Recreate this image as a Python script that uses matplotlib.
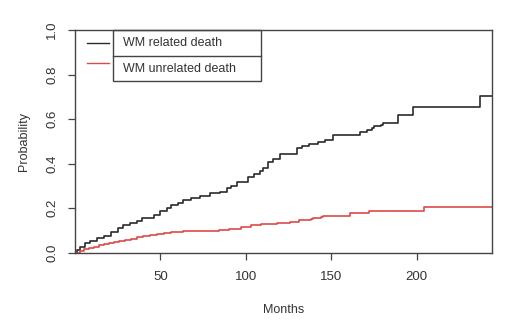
import matplotlib
matplotlib.use("Agg")
import matplotlib.pyplot as plt
from matplotlib.patches import Rectangle
from matplotlib.lines import Line2D

plt.rcParams["font.family"] = ["Liberation Sans", "DejaVu Sans"]

# cumulative incidence (step times in months)
related_t = [0, 1, 3, 6, 9, 13, 17, 21, 25, 28, 32, 36, 39, 46, 50, 54, 56, 60, 63, 68,
             73, 79, 85, 89, 91, 95, 101, 105, 108, 110, 113, 116, 120, 130, 133, 137, 142, 146,
             151, 167, 171, 174, 175, 179, 180, 189, 198, 237, 244]
related_p = [0.0, 0.012, 0.027, 0.044, 0.054, 0.066, 0.076, 0.094, 0.110, 0.124, 0.135, 0.144,
             0.154, 0.169, 0.189, 0.199, 0.214, 0.222, 0.237, 0.244, 0.255, 0.267, 0.274, 0.289,
             0.300, 0.319, 0.341, 0.353, 0.368, 0.379, 0.409, 0.419, 0.443, 0.469, 0.479, 0.488,
             0.498, 0.506, 0.530, 0.543, 0.551, 0.559, 0.569, 0.573, 0.584, 0.618, 0.653, 0.704, 0.704]

unrelated_t = [0, 3, 5, 8, 11, 14, 17, 20, 23, 26, 29, 33, 36, 40, 44, 48, 52, 56, 60, 63,
               84, 86, 90, 95, 97, 103, 109, 114, 118, 126, 131, 138, 139, 144, 145, 161, 172, 204, 244]
unrelated_p = [0.0, 0.008, 0.017, 0.022, 0.027, 0.033, 0.038, 0.044, 0.049, 0.053, 0.057, 0.063,
               0.069, 0.074, 0.079, 0.083, 0.087, 0.091, 0.094, 0.097, 0.100, 0.104, 0.105, 0.108,
               0.117, 0.124, 0.127, 0.129, 0.135, 0.139, 0.147, 0.150, 0.157, 0.162, 0.166, 0.177,
               0.187, 0.204, 0.204]

labels = ["WM related death", "WM unrelated death"]
x_ticks = [50, 100, 150, 200]
y_ticks = [0.0, 0.2, 0.4, 0.6, 0.8, 1.0]

black = "#2b2b2b"
red = "#dd4a4a"
frame = "#444444"
txt = "#333333"

fig = plt.figure(figsize=(5.2, 3.32), dpi=100)
ax = fig.add_axes([0.1442, 0.2389, 0.802, 0.6707])

ax.step(related_t, related_p, where="post", color=black, lw=1.2)
ax.step(unrelated_t, unrelated_p, where="post", color=red, lw=1.2)

ax.set_xlim(0, 244)
ax.set_ylim(0, 1.0)
ax.set_xticks(x_ticks)
ax.set_yticks(y_ticks)
ax.set_yticklabels([f"{v:.1f}" for v in y_ticks], rotation=90, va="center")
ax.tick_params(axis="both", length=5, width=0.9, color=frame, labelcolor=txt, labelsize=9.5)
ax.tick_params(axis="x", pad=8)
ax.tick_params(axis="y", pad=7)
for s in ax.spines.values():
    s.set_color(frame)
    s.set_linewidth(1.0)

ax.set_xlabel("Months", fontsize=9, color=txt, labelpad=15)
ax.set_ylabel("Probability", fontsize=9, color=txt, labelpad=12)

# R-style legend box (lines sit left of the box, as in the reference)
tr = ax.transAxes
ax.add_patch(Rectangle((0.0911, 0.772), 0.355, 0.228, transform=tr, fill=False,
                       edgecolor=frame, lw=1.0, clip_on=False))
ax.add_line(Line2D([0.0911, 0.446], [0.885, 0.885], transform=tr, color=frame, lw=1.0))
ax.add_line(Line2D([0.0288, 0.0815], [0.940, 0.940], transform=tr, color=black, lw=1.0))
ax.add_line(Line2D([0.0288, 0.0815], [0.853, 0.853], transform=tr, color=red, lw=1.0))
ax.text(0.115, 0.940, labels[0], transform=tr, fontsize=9, color=txt, va="center")
ax.text(0.115, 0.824, labels[1], transform=tr, fontsize=9, color=txt, va="center")

fig.savefig("out.png", dpi=100)
